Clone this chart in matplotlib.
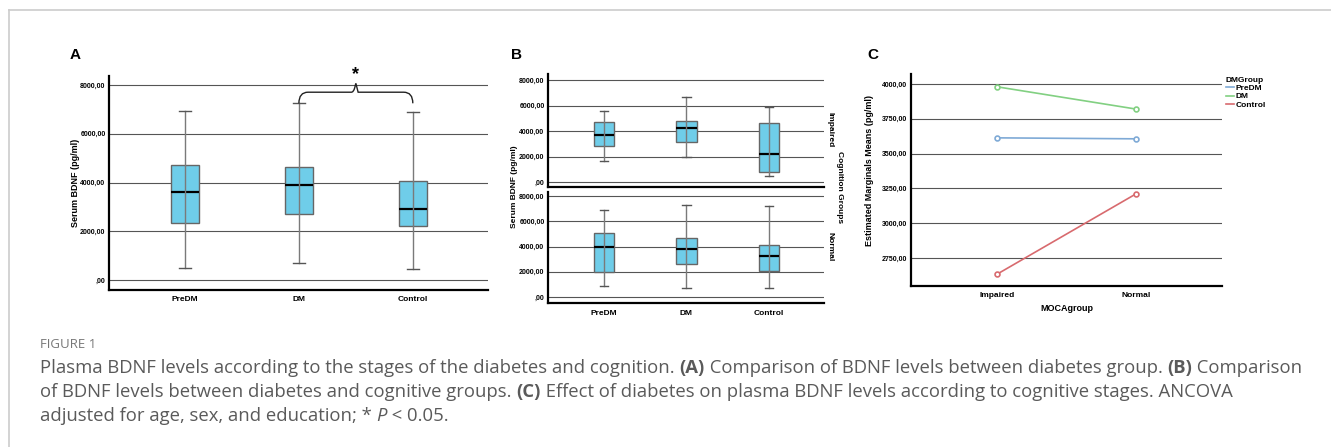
import numpy as np
import matplotlib
matplotlib.use("Agg")
import matplotlib.pyplot as plt
from matplotlib.path import Path
from matplotlib.patches import PathPatch
from matplotlib.lines import Line2D

# ---- data ----
groups = ["PreDM", "DM", "Control"]

# panel A: whisker low, Q1, median, Q3, whisker high
a_low = [507, 685, 438]
a_q1 = [2329, 2726, 2219]
a_med = [3630, 3890, 2904]
a_q3 = [4726, 4644, 4082]
a_high = [6945, 7260, 6877]

# panel B, impaired cognition
bi_low = [1652, 1993, 472]
bi_q1 = [2859, 3174, 813]
bi_med = [3725, 4197, 2230]
bi_q3 = [4669, 4748, 4590]
bi_high = [5534, 6636, 5849]

# panel B, normal cognition
bn_low = [842, 684, 737]
bn_q1 = [1974, 2605, 2053]
bn_med = [3947, 3789, 3237]
bn_q3 = [5105, 4684, 4158]
bn_high = [6921, 7316, 7237]

# panel C: estimated marginal means
moca = ["Impaired", "Normal"]
emm_predm = [3613, 3606]
emm_dm = [3980, 3820]
emm_control = [2633, 3210]
line_colors = ["#7faad6", "#82d082", "#d86a6e"]

box_ticks = [0, 2000, 4000, 6000, 8000]
c_ticks = [2750, 3000, 3250, 3500, 3750, 4000]

W, H = 1331, 447
FONT = "Liberation Sans"
plt.rcParams["font.family"] = [FONT, "DejaVu Sans"]

fig = plt.figure(figsize=(W / 100, H / 100), dpi=100)


def ax_px(l, t, r, b):
    return fig.add_axes([l / W, 1 - b / H, (r - l) / W, (b - t) / H])


def fmt(v):
    s = f"{v:.2f}".replace(".", ",")
    return s[1:] if s.startswith("0") else s


def style_axes(ax, ticks, ylim, xlim):
    ax.set_ylim(*ylim)
    ax.set_xlim(*xlim)
    ax.set_yticks(ticks)
    ax.set_yticklabels([fmt(t) for t in ticks], fontsize=5, fontweight="bold")
    for t in ticks:
        ax.axhline(t, color="#555555", lw=0.8, zorder=0)
    for s in ["top", "right"]:
        ax.spines[s].set_visible(False)
    for s in ["left", "bottom"]:
        ax.spines[s].set_linewidth(1.6)
        ax.spines[s].set_color("black")
    ax.tick_params(length=0, pad=2.5)


def boxes(ax, low, q1, med, q3, high):
    stats = []
    for i in range(len(groups)):
        stats.append(dict(whislo=low[i], q1=q1[i], med=med[i], q3=q3[i],
                          whishi=high[i], label=groups[i]))
    pos = np.arange(len(groups))
    ax.bxp(stats, positions=pos, widths=0.25, capwidths=0.1,
           showfliers=False, patch_artist=True,
           boxprops=dict(facecolor="#6fcde9", edgecolor="#666666", lw=1.0),
           whiskerprops=dict(color="#7a7a7a", lw=1.0),
           capprops=dict(color="#555555", lw=1.0),
           medianprops=dict(color="black", lw=1.6), zorder=2)
    # whisker line continues through the box
    ax.vlines(pos, q1, q3, color="#7a7a7a", lw=1.0, zorder=3)
    ax.set_xticks(pos)
    ax.set_xticklabels(groups, fontsize=6, fontweight="bold")


# ---- panel A ----
axA = ax_px(109, 76, 488, 290)
style_axes(axA, box_ticks, (-410, 8370), (-0.667, 2.66))
boxes(axA, a_low, a_q1, a_med, a_q3, a_high)
axA.tick_params(axis="x", pad=4)
fig.text(75 / W, 1 - 183 / H, "Serum BDNF (pg/ml)", rotation=90, fontsize=6.5,
         fontweight="bold", ha="center", va="center")

# significance brace between DM and Control
x0, x1 = 1, 2
yb = 7705
ye = 7250
ytip = 8070
xm = (x0 + x1) / 2
verts = [(x0, ye), (x0, yb), (x0 + 0.08, yb),
         (xm - 0.04, yb), (xm - 0.02, yb), (xm - 0.01, (yb + ytip) / 2), (xm, ytip),
         (xm + 0.01, (yb + ytip) / 2), (xm + 0.02, yb), (xm + 0.04, yb),
         (x1 - 0.08, yb), (x1, yb), (x1, ye)]
codes = [Path.MOVETO, Path.CURVE3, Path.CURVE3,
         Path.LINETO, Path.CURVE3, Path.CURVE3, Path.LINETO,
         Path.CURVE3, Path.CURVE3, Path.LINETO,
         Path.LINETO, Path.CURVE3, Path.CURVE3]
axA.add_patch(PathPatch(Path(verts, codes), fill=False, lw=1.0,
                        edgecolor="#222222", zorder=4, clip_on=False))
axA.text(xm, 8440, "*", fontsize=13, fontweight="bold", ha="center", va="center",
         clip_on=False)

# ---- panel B ----
axB1 = ax_px(548, 74, 824, 187)
axB2 = ax_px(548, 192, 824, 303)
style_axes(axB1, box_ticks, (-390, 8470), (-0.68, 2.67))
style_axes(axB2, box_ticks, (-475, 8320), (-0.68, 2.67))
boxes(axB1, bi_low, bi_q1, bi_med, bi_q3, bi_high)
boxes(axB2, bn_low, bn_q1, bn_med, bn_q3, bn_high)
axB1.set_xticklabels([])
axB2.tick_params(axis="x", pad=5)
fig.text(515 / W, 1 - 187 / H, "Serum BDNF (pg/ml)", rotation=90, fontsize=6,
         fontweight="bold", ha="center", va="center")
fig.text(830 / W, 1 - 130 / H, "Impaired", rotation=-90, fontsize=6,
         fontweight="bold", ha="center", va="center")
fig.text(830 / W, 1 - 247 / H, "Normal", rotation=-90, fontsize=6,
         fontweight="bold", ha="center", va="center")
fig.text(840 / W, 1 - 187 / H, "Cognition Groups", rotation=-90, fontsize=6,
         fontweight="bold", ha="center", va="center")

# ---- panel C ----
axC = ax_px(911, 74, 1222, 286)
style_axes(axC, c_ticks, (2548, 4072), (-0.62, 1.62))
xc = np.arange(len(moca))
for vals, name, col in zip([emm_predm, emm_dm, emm_control], groups, line_colors):
    axC.plot(xc, vals, color=col, lw=1.2, marker="o", ms=3.5, mfc="white",
             mec=col, mew=1.2, zorder=3, label=name)
axC.set_xticks(xc)
axC.set_xticklabels(moca, fontsize=6, fontweight="bold")
axC.tick_params(axis="x", pad=4)
axC.set_xlabel("MOCAgroup", fontsize=6.5, fontweight="bold", labelpad=4)
fig.text(870 / W, 1 - 170 / H, "Estimated Marginals Means (pg/ml)", rotation=90,
         fontsize=6.5, fontweight="bold", ha="center", va="center")
handles = [Line2D([], [], color=c, lw=1.2) for c in line_colors]
leg = fig.legend(handles, groups, title="DMGroup", loc="upper left",
                 bbox_to_anchor=(1226 / W, 1 - 77 / H), frameon=False,
                 handlelength=1.0, handletextpad=0.2, labelspacing=0.05,
                 borderpad=0, borderaxespad=0, fontsize=6,
                 title_fontproperties=dict(size=6, weight="bold"),
                 alignment="left")
for t in leg.get_texts():
    t.set_fontweight("bold")

# ---- panel letters ----
for x, lab in [(75, "A"), (516, "B"), (873, "C")]:
    fig.text(x / W, 1 - 55 / H, lab, fontsize=11, fontweight="bold",
             ha="center", va="center")

# ---- frame ----
fig.add_artist(Line2D([9 / W, 1], [1 - 10 / H, 1 - 10 / H], color="#cccccc", lw=1.2))
fig.add_artist(Line2D([9 / W, 9 / W], [1 - 10 / H, 0], color="#cccccc", lw=1.2))

# ---- caption ----
cap_font = ["Open Sans", "DejaVu Sans"]
cap_size = 13.3
cap_color = "#5a5a5a"
fig.text(40 / W, 1 - 344 / H, "FIGURE 1", fontsize=9.5, color="#777777",
         family=cap_font, va="center")

lines = [
    [("Plasma BDNF levels according to the stages of the diabetes and cognition. ", "normal", "normal"),
     ("(A)", "bold", "normal"),
     (" Comparison of BDNF levels between diabetes group. ", "normal", "normal"),
     ("(B)", "bold", "normal"),
     (" Comparison", "normal", "normal")],
    [("of BDNF levels between diabetes and cognitive groups. ", "normal", "normal"),
     ("(C)", "bold", "normal"),
     (" Effect of diabetes on plasma BDNF levels according to cognitive stages. ANCOVA", "normal", "normal")],
    [("adjusted for age, sex, and education; * ", "normal", "normal"),
     ("P", "normal", "italic"),
     (" < 0.05.", "normal", "normal")],
]
baselines = [373, 397, 421]

renderer = fig.canvas.get_renderer()
for segs, yb_px in zip(lines, baselines):
    x = 40
    for txt, wt, st in segs:
        t = fig.text(x / W, 1 - yb_px / H, txt, fontsize=cap_size, color=cap_color,
                     family=cap_font, fontweight=wt, fontstyle=st, va="baseline")
        bb = t.get_window_extent(renderer)
        x += bb.width

fig.savefig("out.png", dpi=100)
